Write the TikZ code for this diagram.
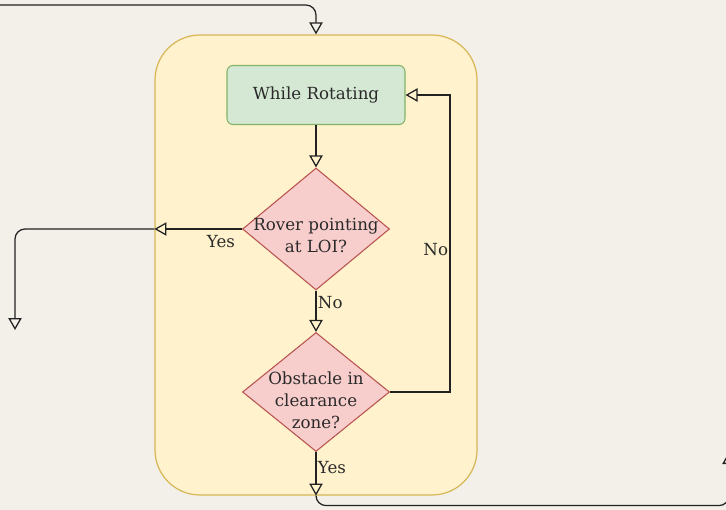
\documentclass[tikz,border=0pt]{standalone}
\usepackage{fontspec}
\setmainfont{DejaVu Serif}
\usetikzlibrary{shapes.geometric,arrows.meta}

\definecolor{paper}{HTML}{F3F0E9}
\definecolor{loopfill}{HTML}{FFF2CC}
\definecolor{loopline}{HTML}{D6B656}
\definecolor{actfill}{HTML}{D5E8D4}
\definecolor{actline}{HTML}{82B366}
\definecolor{askfill}{HTML}{F8CECC}
\definecolor{askline}{HTML}{B85450}
\definecolor{wire}{HTML}{222222}
\definecolor{ink}{HTML}{2A2A2A}

\tikzset{
  flow/.style={draw=wire, line width=0.95pt, -{Triangle[open, length=9pt, width=10pt]}},
  actbox/.style={draw=actline, fill=actfill, line width=0.8pt, rounded corners=4.5pt,
    minimum width=133.5pt, minimum height=44.25pt, inner sep=0pt},
  askbox/.style={diamond, draw=askline, fill=askfill, line width=0.8pt, inner sep=0pt,
    minimum width=110.25pt},
  tag/.style={font=\fontsize{12.5}{14}\selectfont, text=ink, inner sep=1pt}
}

\begin{document}
\begin{tikzpicture}[x=0.75pt, y=-0.75pt, font=\fontsize{12.5}{16.5}\selectfont, text=ink]
        % 背景
        \useasboundingbox (0,0) rectangle (726,510);
        \clip (0,0) rectangle (726,510);
        \fill[paper] (0,0) rectangle (726,510);

        % 循环框
        \node[draw=loopline, fill=loopfill, line width=0.9pt, rounded corners=33.75pt,
          minimum width=241.5pt, minimum height=345pt] (loop) at (316,265) {};

        % 步骤与判断
        \node[actbox] (rot) at (316,95) {While Rotating};
        \node[askbox, minimum height=91.5pt,
          label={[align=center, yshift=-5pt]center:Rover pointing\\at LOI?}] (aim) at (316,229) {};
        \node[askbox, minimum height=89.25pt,
          label={[align=center, yshift=-6pt]center:Obstacle in\\clearance\\zone?}] (obst) at (316,392) {};

        % 外部端点
        \coordinate (inlet) at (-10,5);
        \coordinate (leftout) at (15,330);
        \coordinate (rightout) at (729,452);

        % 连线
        \draw[flow, rounded corners=7.5pt] (inlet) -| (loop.north);
        \draw[flow] (rot) -- (aim);
        \draw[flow] (aim) -- (aim -| loop.west) node[tag, pos=.24, below=3pt] {Yes};
        \draw[flow, rounded corners=7.5pt] (aim -| loop.west) -| (leftout);
        \draw[flow] (aim) -- (obst) node[tag, pos=.3, right] {No};
        \draw[flow] (obst) -- (450,392) |- (rot) node[tag, pos=.24, left] {No};
        \draw[flow] (obst) -- (obst |- loop.south) node[tag, pos=.35, right] {Yes};
        \draw[flow, rounded corners=7.5pt] (loop.south) -- ++(0,10) -| (rightout);
    \end{tikzpicture}
\end{document}
